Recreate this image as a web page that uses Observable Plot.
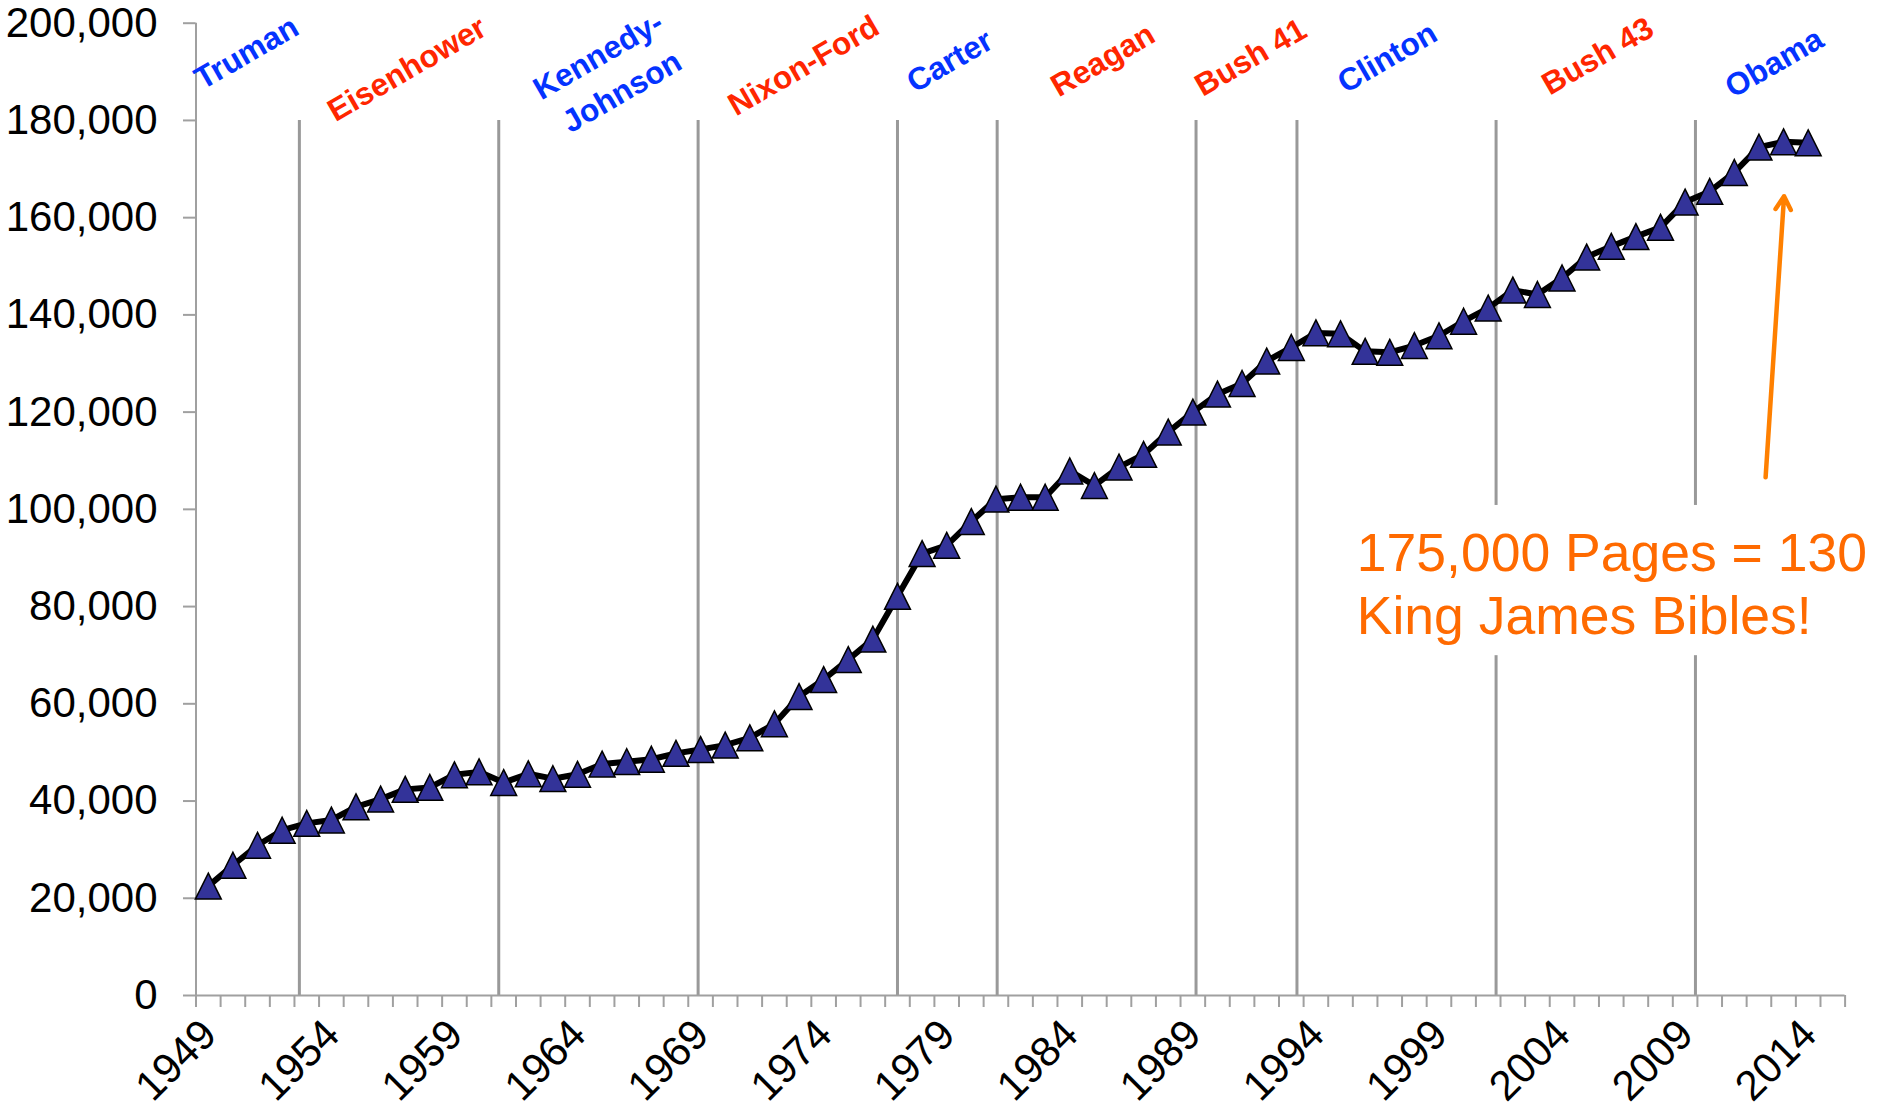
<!DOCTYPE html>
<html><head><meta charset="utf-8">
<script src="https://cdn.jsdelivr.net/npm/d3@7"></script>
<script src="https://cdn.jsdelivr.net/npm/@observablehq/plot@0.6"></script>
<style>body{margin:0;background:#fff}svg{display:block}</style>
</head><body><div id="chart"></div>
<script>
// ---- data ----
const years = [1949,1950,1951,1952,1953,1954,1955,1956,1957,1958,1959,1960,1961,1962,1963,1964,1965,1966,1967,1968,
  1969,1970,1971,1972,1973,1974,1975,1976,1977,1978,1979,1980,1981,1982,1983,1984,1985,1986,1987,1988,
  1989,1990,1991,1992,1993,1994,1995,1996,1997,1998,1999,2000,2001,2002,2003,2004,2005,2006,2007,2008,
  2009,2010,2011,2012,2013,2014];
const pages = [22500,26800,30900,34000,35400,36100,38800,40400,42400,42800,45400,46000,43800,45600,44600,45500,47600,48100,48600,49800,
  50600,51500,53000,55900,61500,65000,69100,73300,82100,90900,92600,97500,102100,102500,102500,107900,104900,108700,111300,115900,
  120000,123700,125900,130500,133300,136300,136100,132500,132300,133700,135700,138700,141400,145100,144200,147600,151900,154100,156100,158000,
  163200,165400,169300,174500,175600,175400];
const labelYears = [1949,1954,1959,1964,1969,1974,1979,1984,1989,1994,1999,2004,2009,2014];
const yTicks = [0,20000,40000,60000,80000,100000,120000,140000,160000,180000,200000];
const termStarts = [1952.7,1960.8,1968.9,1977.0,1981.05,1989.13,1993.23,2001.32,2009.42];
const presNames = ["Truman","Eisenhower","Kennedy-","Johnson","Nixon-Ford","Carter","Reagan","Bush 41","Clinton","Bush 43","Obama"];
const presParty = ["D","R","D","D","R","D","R","R","D","R","D"];
const presX = [1948.76,1954.17,1962.53,1963.71,1970.44,1977.7,1983.55,1989.4,1995.2,2003.5,2010.95];
const presY = [186200,179600,184100,177300,180800,185600,184700,184800,185500,185100,184500];
const noteLines = ["175,000 Pages = 130","King James Bibles!"];
const noteX = 1995.66;
const noteY = [87400,74300];
const noteBox = {x1:1995.2, x2:2015.5, y1:69900, y2:100800};
const arrowSpec = {x1:2012.27, y1:106600, x2:2013.02, y2:164400};

// ---- build ----
const data = years.map((y,i)=>({year:y, pages:pages[i]}));
const pres = presNames.map((n,i)=>({name:n, party:presParty[i], x:presX[i], y:presY[i]}));
const notes = noteLines.map((t,i)=>({t, x:noteX, y:noteY[i]}));
const tri = {draw(ctx,size){const s=Math.sqrt(size);ctx.moveTo(0,-s/2);ctx.lineTo(s/2,s/2);ctx.lineTo(-s/2,s/2);ctx.closePath();}};
const axisGray = "#a0a0a0";

const chart = Plot.plot({
  width:1880, height:1112,
  marginLeft:195.5, marginRight:35.4, marginTop:22.7, marginBottom:117,
  style:{fontFamily:"'Liberation Sans', Arial, Helvetica, sans-serif", background:"white"},
  x:{type:"linear", domain:[1948.5,2015.5]},
  y:{domain:[0,200000]},
  marks:[
    Plot.ruleX(termStarts,{y1:0,y2:180000,stroke:"#999",strokeWidth:3}),
    Plot.rect([noteBox],{x1:"x1",x2:"x2",y1:"y1",y2:"y2",fill:"white"}),
    Plot.ruleX([1948.5],{stroke:axisGray,strokeWidth:2}),
    Plot.ruleY([0],{stroke:axisGray,strokeWidth:2}),
    Plot.axisY({ticks:yTicks, tickSize:12.5, tickPadding:26, tickFormat:d3.format(","), fontSize:42, stroke:axisGray, strokeWidth:2, fill:"black"}),
    Plot.axisX({ticks:d3.range(1948.5,2016,1), tickSize:12, tickFormat:()=>"", stroke:axisGray, strokeWidth:2}),
    Plot.axisX({ticks:labelYears, tickSize:0, tickRotate:-45, tickPadding:32, dx:1, fontSize:42, tickFormat:d=>String(d), fill:"black"}),
    Plot.line(data,{x:"year",y:"pages",stroke:"black",strokeWidth:6}),
    Plot.dot(data,{x:"year",y:"pages",symbol:tri,r:14.6,fill:"#333399",stroke:"black",strokeWidth:1.5}),
    Plot.text(pres,{x:"x",y:"y",text:"name",fill:d=>d.party==="D"?"#0433FF":"#FF2600",rotate:-30,textAnchor:"start",lineAnchor:"bottom",fontSize:31.5,fontWeight:"bold"}),
    Plot.text(notes,{x:"x",y:"y",text:"t",fill:"#FF6A00",textAnchor:"start",lineAnchor:"bottom",fontSize:53.5}),
    Plot.arrow([arrowSpec],{x1:"x1",y1:"y1",x2:"x2",y2:"y2",stroke:"#FF8000",strokeWidth:4.5,headLength:5.1,headAngle:60})
  ]
});
document.getElementById("chart").appendChild(chart);
</script>
</body></html>
